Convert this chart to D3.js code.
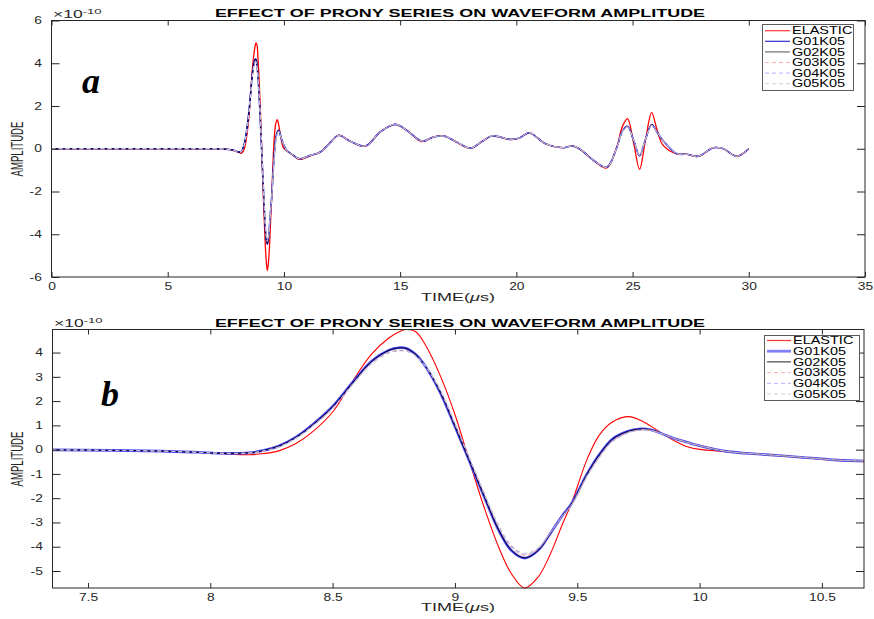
<!DOCTYPE html>
<html><head><meta charset="utf-8">
<script src="https://cdn.jsdelivr.net/npm/d3@7"></script>
<style>html,body{margin:0;padding:0;background:#fff;} svg{display:block;}</style>
</head><body><svg id="c" width="874" height="619"></svg>
<script>
// ---------------- DATA (amplitude in 1e-10) ----------------
const time = [0,2,4,6,7,7.35,7.6,7.8,7.95,8.05,
  8.16,8.22,8.28,8.35,8.42,8.5,8.58,8.66,8.73,8.77,
  8.8,8.84,8.88,8.94,9.0,9.06,9.12,9.18,9.23,9.285,
  9.34,9.39,9.44,9.475,9.54,9.59,9.645,9.71,9.76,9.8,
  9.85,9.9,9.95,10.0,10.11,10.25,10.4,10.55,10.71,11.14,
  11.57,12.0,12.35,12.86,13.5,14.15,14.79,15.29,15.94,16.44,
  16.94,17.44,18.02,18.5,18.95,19.74,20.1,20.57,21.24,22.03,
  22.39,22.75,23.32,23.89,24.32,24.55,24.78,25.05,25.3,25.55,
  25.82,26.05,26.3,26.9,27.33,27.83,28.48,28.91,29.48,30.0];

const elastic = [0,0,0,0,0,-0.01,-0.03,-0.07,-0.12,-0.17,
  -0.21,-0.16,-0.05,0.25,0.75,1.55,2.8,3.95,4.6,4.85,
  4.95,4.86,4.3,3.05,1.45,-0.5,-2.4,-4.05,-5.1,-5.70,
  -5.25,-4.3,-3.05,-2.25,-0.4,0.6,1.15,1.36,1.2,0.97,
  0.64,0.35,0.12,0.01,-0.08,-0.2,-0.31,-0.44,-0.5,-0.33,
  -0.15,0.3,0.63,0.35,0.12,0.79,1.14,0.86,0.34,0.56,
  0.58,0.3,0.02,0.32,0.6,0.43,0.49,0.74,0.24,0.05,
  0.13,-0.04,-0.55,-0.9,0.08,1.0,1.41,0.25,-0.96,0.37,
  1.69,0.9,0.18,-0.24,-0.26,-0.36,0.05,0.0,-0.35,0.0];

const g01k05 = [0,0,0,0,0,-0.01,-0.03,-0.06,-0.11,-0.15,
  -0.13,-0.03,0.15,0.52,1.05,1.78,2.75,3.65,4.1,4.2,
  4.18,3.92,3.42,2.35,0.95,-0.5,-1.95,-3.35,-4.15,-4.47,
  -4.15,-3.45,-2.7,-2.25,-1.0,-0.2,0.45,0.77,0.86,0.82,
  0.64,0.45,0.3,0.16,-0.07,-0.19,-0.3,-0.42,-0.47,-0.31,
  -0.15,0.3,0.63,0.35,0.13,0.79,1.14,0.86,0.36,0.55,
  0.58,0.31,0.03,0.32,0.6,0.44,0.49,0.74,0.24,0.05,
  0.13,-0.03,-0.54,-0.86,0.05,0.8,1.05,0.38,-0.33,0.42,
  1.13,0.78,0.4,-0.23,-0.26,-0.35,0.05,0.0,-0.35,0.0];

const g02k05 = [0,0,0,0,0,-0.01,-0.03,-0.06,-0.11,-0.15,
  -0.13,-0.03,0.15,0.51,1.04,1.77,2.74,3.64,4.09,4.19,
  4.17,3.92,3.43,2.37,0.97,-0.48,-1.93,-3.33,-4.13,-4.46,
  -4.15,-3.46,-2.71,-2.26,-1.01,-0.21,0.44,0.76,0.85,0.82,
  0.64,0.45,0.3,0.16,-0.07,-0.19,-0.3,-0.42,-0.47,-0.31,
  -0.15,0.3,0.63,0.35,0.13,0.79,1.14,0.86,0.36,0.55,
  0.58,0.31,0.03,0.32,0.6,0.44,0.49,0.74,0.24,0.05,
  0.13,-0.03,-0.54,-0.86,0.05,0.8,1.04,0.38,-0.33,0.42,
  1.12,0.78,0.4,-0.23,-0.26,-0.35,0.05,0.0,-0.35,0.0];

const g03k05 = [0,0,0,0,0,-0.01,-0.03,-0.06,-0.11,-0.15,
  -0.14,-0.05,0.12,0.48,1.0,1.72,2.69,3.58,4.02,4.1,
  4.09,3.87,3.43,2.42,1.04,-0.4,-1.85,-3.22,-4.02,-4.36,
  -4.1,-3.44,-2.72,-2.29,-1.07,-0.29,0.37,0.72,0.82,0.8,
  0.64,0.45,0.3,0.16,-0.07,-0.19,-0.3,-0.42,-0.47,-0.31,
  -0.15,0.3,0.63,0.35,0.13,0.79,1.14,0.86,0.36,0.55,
  0.58,0.31,0.03,0.32,0.6,0.44,0.49,0.74,0.24,0.05,
  0.13,-0.03,-0.54,-0.86,0.05,0.79,1.03,0.39,-0.32,0.42,
  1.11,0.78,0.4,-0.23,-0.26,-0.35,0.05,0.0,-0.35,0.0];

const g04k05 = [0,0,0,0,0,-0.01,-0.03,-0.06,-0.11,-0.15,
  -0.14,-0.05,0.11,0.47,0.99,1.7,2.67,3.56,4.0,4.08,
  4.07,3.86,3.43,2.44,1.07,-0.37,-1.82,-3.18,-3.98,-4.31,
  -4.07,-3.43,-2.72,-2.3,-1.09,-0.31,0.35,0.71,0.81,0.8,
  0.64,0.45,0.3,0.16,-0.07,-0.19,-0.3,-0.42,-0.47,-0.31,
  -0.15,0.3,0.63,0.35,0.13,0.79,1.14,0.86,0.36,0.55,
  0.58,0.31,0.03,0.32,0.6,0.44,0.49,0.74,0.24,0.05,
  0.13,-0.03,-0.54,-0.86,0.05,0.79,1.02,0.39,-0.32,0.42,
  1.1,0.78,0.4,-0.23,-0.26,-0.35,0.05,0.0,-0.35,0.0];

const g05k05 = [0,0,0,0,0,-0.01,-0.03,-0.06,-0.11,-0.15,
  -0.14,-0.06,0.1,0.46,0.97,1.68,2.65,3.54,3.98,4.06,
  4.05,3.85,3.43,2.46,1.1,-0.34,-1.79,-3.14,-3.94,-4.27,
  -4.05,-3.42,-2.73,-2.31,-1.11,-0.33,0.33,0.69,0.79,0.79,
  0.64,0.45,0.3,0.16,-0.07,-0.19,-0.3,-0.42,-0.47,-0.31,
  -0.15,0.3,0.63,0.35,0.13,0.79,1.14,0.86,0.36,0.55,
  0.58,0.31,0.03,0.32,0.6,0.44,0.49,0.74,0.24,0.05,
  0.13,-0.03,-0.54,-0.86,0.05,0.78,1.01,0.39,-0.31,0.42,
  1.09,0.78,0.4,-0.23,-0.26,-0.35,0.05,0.0,-0.35,0.0];

const seriesNames = ["ELASTIC","G01K05","G02K05","G03K05","G04K05","G05K05"];
const seriesValues = [elastic, g01k05, g02k05, g03k05, g04k05, g05k05];

const topXTicks = [0,5,10,15,20,25,30,35];
const topYTicks = [-6,-4,-2,0,2,4,6];
const botXTicks = [7.5,8,8.5,9,9.5,10,10.5];
const botYTicks = [-5,-4,-3,-2,-1,0,1,2,3,4];
const titleText = "EFFECT OF PRONY SERIES ON WAVEFORM AMPLITUDE";
const yLabelText = "AMPLITUDE";
const panelLetters = ["a","b"];

// ---------------- DRAWING ----------------
const svg = d3.select("#c");
const FONT = "'Liberation Sans', Arial, Helvetica, sans-serif";
const INK = "#262626";

const botRange = [7.355, 10.672];
const inRange = time.map((t,i)=>i).filter(i=>time[i]>=botRange[0] && time[i]<=botRange[1]);
const botExt = d3.extent(inRange.map(i=>elastic[i]));

const panels = [
 { id:"a", left:51.5, right:865, top:20.5, bottom:277, xDomain:[0,35], yDomain:[-6,6],
   xTicks:topXTicks, yTicks:topYTicks, letter:panelLetters[0], letterX:82, letterY:93,
   titleY:17, xlabY:301, ylabY:149,
   styles:[
     {c:"#ff0000", w:1.3},
     {c:"#1010e0", w:1.6},
     {c:"#000000", w:1.0, o:0.75},
     {c:"#ff9c9c", w:1, d:"4,3"},
     {c:"#a0a0ff", w:1, d:"4,3"},
     {c:"#c8c8c8", w:1, d:"4,3"}],
   legStyles:[
     {c:"#ff3030", w:1.2},{c:"#3030d0", w:1.2},{c:"#707070", w:1.2},
     {c:"#ffb0b0", w:1, d:"4,3"},{c:"#b0b0ff", w:1, d:"4,3"},{c:"#d0d0d0", w:1, d:"4,3"}],
   leg:{x:762, y:24, w:91, h:66, y0:30.7, step:10.6, lx0:765, lx1:790, tx:792}
 },
 { id:"b", left:52.5, right:864, top:329.5, bottom:588, xDomain:botRange, yDomain:[botExt[0], botExt[1]],
   xTicks:botXTicks, yTicks:botYTicks, letter:panelLetters[1], letterX:101, letterY:406,
   titleY:327, xlabY:611, ylabY:459,
   styles:[
     {c:"#ff0000", w:1.1},
     {c:"#4848ff", w:2.6},
     {c:"#000020", w:1.0},
     {c:"#ff9c9c", w:1, d:"4,3"},
     {c:"#a0a0ff", w:1, d:"4,3"},
     {c:"#c0c0c0", w:1, d:"4,3"}],
   legStyles:[
     {c:"#ff3030", w:1.2},{c:"#8080ff", w:2.8},{c:"#202020", w:1},
     {c:"#ffb0b0", w:1, d:"4,3"},{c:"#b0b0ff", w:1, d:"4,3"},{c:"#d0d0d0", w:1, d:"4,3"}],
   leg:{x:764, y:335, w:95, h:65, y0:340.5, step:10.7, lx0:767, lx1:791, tx:793}
 }
];

const fmt = d => String(d);
const TSC = 1.38; // horizontal stretch of tick labels

panels.forEach(p => {
  const g = svg.append("g");
  const x = d3.scaleLinear().domain(p.xDomain).range([p.left, p.right]);
  const y = d3.scaleLinear().domain(p.yDomain).range([p.bottom, p.top]);

  const clipId = "clip" + p.id;
  svg.append("clipPath").attr("id", clipId).append("rect")
    .attr("x", p.left).attr("y", p.top - 1).attr("width", p.right - p.left).attr("height", p.bottom - p.top + 2);

  const line = d3.line().x(d => x(d[0])).y(d => y(d[1])).curve(d3.curveCatmullRom.alpha(0.5));
  const lg = g.append("g").attr("clip-path", `url(#${clipId})`);
  seriesValues.forEach((vals, k) => {
    const st = p.styles[k];
    lg.append("path")
      .attr("d", line(time.map((t,i)=>[t, vals[i]])))
      .attr("fill","none").attr("stroke", st.c).attr("stroke-width", st.w)
      .attr("stroke-opacity", st.o || 1)
      .attr("stroke-dasharray", st.d || null)
      .attr("stroke-linejoin","round");
  });

  const styleAxis = a => { a.select(".domain").remove(); a.selectAll("line").attr("stroke", INK); };
  const bx = g.append("g").attr("transform", `translate(0,${p.bottom})`)
    .call(d3.axisBottom(x).tickValues(p.xTicks).tickFormat(fmt).tickSizeInner(-5).tickSizeOuter(0).tickPadding(6));
  styleAxis(bx);
  bx.attr("font-family", FONT).attr("font-size", 10);
  bx.selectAll("text").attr("fill", INK).attr("transform", `scale(${TSC},1)`);

  const tx = g.append("g").attr("transform", `translate(0,${p.top})`)
    .call(d3.axisTop(x).tickValues(p.xTicks).tickFormat(()=>"").tickSizeInner(-5).tickSizeOuter(0));
  styleAxis(tx);

  const ly = g.append("g").attr("transform", `translate(${p.left},0)`)
    .call(d3.axisLeft(y).tickValues(p.yTicks).tickFormat(fmt).tickSizeInner(-8).tickSizeOuter(0).tickPadding(7));
  styleAxis(ly);
  ly.attr("font-family", FONT).attr("font-size", 10);
  ly.selectAll("text").attr("fill", INK).attr("transform", `scale(${TSC},1)`);

  const ry = g.append("g").attr("transform", `translate(${p.right},0)`)
    .call(d3.axisRight(y).tickValues(p.yTicks).tickFormat(()=>"").tickSizeInner(-8).tickSizeOuter(0));
  styleAxis(ry);

  g.append("rect").attr("x", p.left).attr("y", p.top).attr("width", p.right - p.left).attr("height", p.bottom - p.top)
    .attr("fill","none").attr("stroke", INK).attr("stroke-width", 1);

  // exponent label
  const ex = g.append("text").attr("font-family", FONT).attr("fill", INK)
    .attr("transform", `translate(${p.left + 1.5},${p.top - 2.3}) scale(1.75,1)`);
  ex.append("tspan").attr("font-size", 10).text("\u00d710");
  ex.append("tspan").attr("font-size", 7.5).attr("dy", -4.5).text("-10");

  // title
  g.append("text").attr("font-family", FONT).attr("font-weight","bold").attr("font-size", 10)
    .attr("fill", "#000").attr("text-anchor","middle")
    .attr("transform", `translate(460,${p.titleY}) scale(1.8,1)`).text(titleText);

  // x label
  const xl = g.append("text").attr("font-family", FONT).attr("font-size", 10).attr("fill", INK)
    .attr("text-anchor","middle").attr("transform", `translate(458,${p.xlabY}) scale(1.8,1)`);
  xl.append("tspan").text("TIME(");
  xl.append("tspan").attr("font-style","italic").text("\u03bc");
  xl.append("tspan").text("s)");

  // y label
  g.append("text").attr("font-family", FONT).attr("font-size", 9.6).attr("fill", INK)
    .attr("text-anchor","middle").attr("transform", `translate(23,${p.ylabY}) scale(1.75,1) rotate(-90)`)
    .text(yLabelText);

  // panel letter
  g.append("text").attr("font-family", "'Liberation Serif', 'Times New Roman', serif")
    .attr("font-weight","bold").attr("font-style","italic").attr("font-size", 36).attr("fill","#000")
    .attr("x", p.letterX).attr("y", p.letterY).text(p.letter);

  // legend
  const L = p.leg;
  const leg = g.append("g");
  leg.append("rect").attr("x", L.x + 0.5).attr("y", L.y + 0.5).attr("width", L.w).attr("height", L.h)
    .attr("fill","#fff").attr("stroke","#5a5a5a").attr("stroke-width", 1);
  seriesNames.forEach((n, k) => {
    const yy = L.y0 + k * L.step;
    const st = p.legStyles[k];
    leg.append("line").attr("x1", L.lx0).attr("x2", L.lx1).attr("y1", yy).attr("y2", yy)
      .attr("stroke", st.c).attr("stroke-width", st.w).attr("stroke-dasharray", st.d || null);
    leg.append("text").attr("font-family", FONT).attr("font-size", 10).attr("fill", "#000")
      .attr("transform", `translate(${L.tx},${yy + 3.6}) scale(1.45,1)`).text(n);
  });
});
</script>
</body></html>
